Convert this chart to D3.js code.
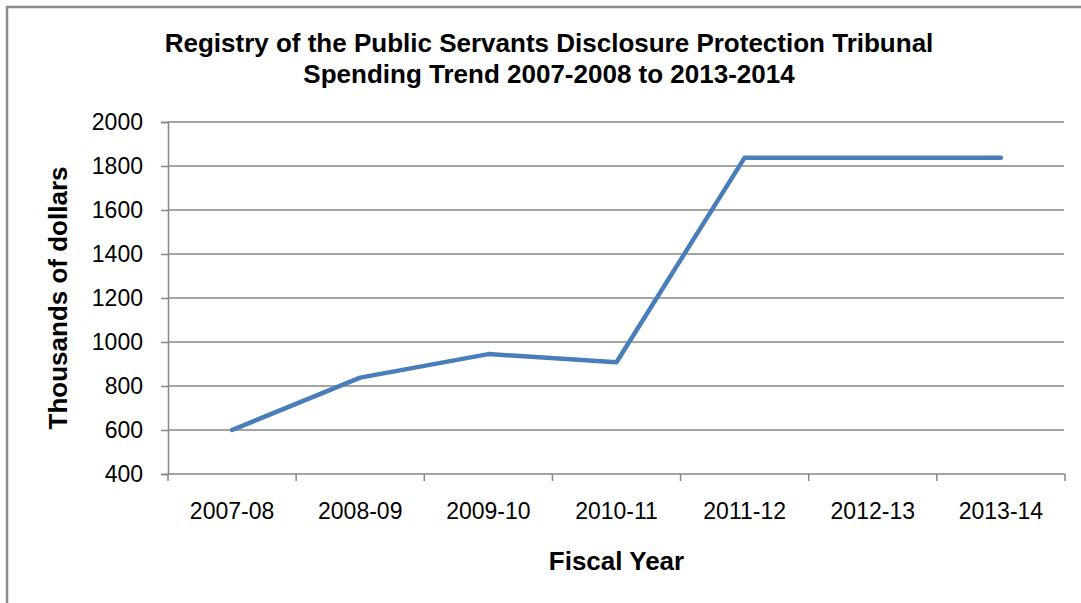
<!DOCTYPE html>
<html>
<head>
<meta charset="utf-8">
<script src="https://cdn.jsdelivr.net/npm/d3@7"></script>
<style>
  body { margin: 0; background: #fff; }
  svg { display: block; font-family: "Liberation Sans", Arial, sans-serif; }
</style>
</head>
<body>
<svg id="chart" width="1081" height="603"></svg>
<script>
(function(){
  var years = ['2007-08', '2008-09', '2009-10', '2010-11', '2011-12', '2012-13', '2013-14']
  var spending = [600, 838, 945, 908, 1838, 1838, 1838]
  var yTicks = [400, 600, 800, 1000, 1200, 1400, 1600, 1800, 2000]
  var titleLines = ['Registry of the Public Servants Disclosure Protection Tribunal',
                    'Spending Trend 2007-2008 to 2013-2014']

  var svg = d3.select('#chart'),
      width = +svg.attr('width'),
      height = +svg.attr('height')

  var left = 168, right = 1065, top = 122, bottom = 474
  var grey = '#868686'

  // outer frame (only left + top visible)
  svg.append('path')
    .attr('d', 'M7,' + height + 'V7H' + width)
    .attr('fill', 'none').attr('stroke', '#8c8c8c').attr('stroke-width', 2.5)

  var x = d3.scaleBand().domain(years).range([left, right]).padding(0)
  var y = d3.scaleLinear().domain([400, 2000]).range([bottom, top])

  // gridlines
  svg.append('g').selectAll('line')
    .data(yTicks.slice(1))
    .enter().append('line')
    .attr('x1', left).attr('x2', right - 1)
    .attr('y1', d => y(d)).attr('y2', d => y(d))
    .attr('stroke', grey).attr('stroke-width', 1.5)

  // y axis
  var yAxis = svg.append('g')
    .attr('transform', 'translate(' + left + ',0)')
    .call(d3.axisLeft(y).tickValues(yTicks).tickSize(7).tickPadding(18).tickFormat(d3.format('d')))
  yAxis.select('.domain').attr('stroke', grey).attr('stroke-width', 1.5)
  yAxis.selectAll('.tick line').attr('stroke', grey).attr('stroke-width', 1.5)
  yAxis.selectAll('.tick text').attr('font-size', 23).attr('fill', '#000')
    .attr('font-family', '"Liberation Sans", Arial, sans-serif')

  // x axis: labels centred in bands, ticks at band edges
  var xAxis = svg.append('g')
    .attr('transform', 'translate(0,' + bottom + ')')
    .call(d3.axisBottom(x).tickSize(0).tickPadding(28.5))
  xAxis.select('.domain').remove()
  xAxis.selectAll('.tick text').attr('font-size', 23).attr('fill', '#000')
    .attr('font-family', '"Liberation Sans", Arial, sans-serif')

  svg.append('line')
    .attr('x1', left).attr('x2', right)
    .attr('y1', bottom).attr('y2', bottom)
    .attr('stroke', grey).attr('stroke-width', 1.5)

  var edges = years.map(d => x(d)).concat([x.range()[1]])
  svg.append('g').selectAll('line')
    .data(edges)
    .enter().append('line')
    .attr('x1', d => d).attr('x2', d => d)
    .attr('y1', bottom).attr('y2', bottom + 7)
    .attr('stroke', grey).attr('stroke-width', 1.5)

  // the series
  var line = d3.line()
    .x((d, i) => x(years[i]) + x.bandwidth() / 2)
    .y(d => y(d))
  svg.append('path')
    .datum(spending)
    .attr('d', line)
    .attr('fill', 'none')
    .attr('stroke', '#4A7EBB')
    .attr('stroke-width', 4.5)
    .attr('stroke-linejoin', 'round')
    .attr('stroke-linecap', 'round')

  // titles
  svg.append('g').selectAll('text')
    .data(titleLines)
    .enter().append('text')
    .attr('x', 549).attr('y', (d, i) => 51.5 + i * 31)
    .attr('text-anchor', 'middle')
    .attr('font-size', 26).attr('font-weight', 'bold')
    .text(d => d)

  svg.append('text')
    .attr('x', (left + right) / 2).attr('y', 570)
    .attr('text-anchor', 'middle')
    .attr('font-size', 26).attr('font-weight', 'bold')
    .text('Fiscal Year')

  svg.append('text')
    .attr('transform', 'translate(67,' + ((top + bottom) / 2) + ') rotate(-90)')
    .attr('text-anchor', 'middle')
    .attr('font-size', 26).attr('font-weight', 'bold')
    .text('Thousands of dollars')
})()
</script>
</body>
</html>
